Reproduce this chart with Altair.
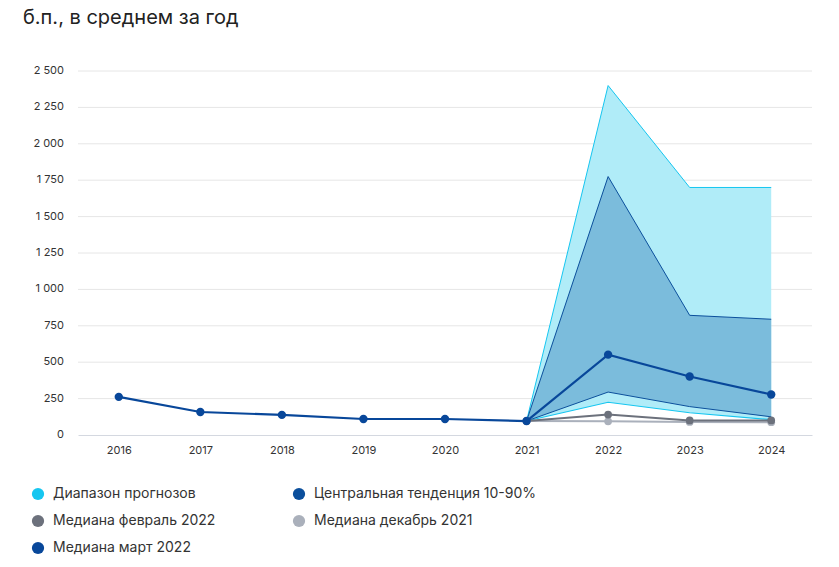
import altair as alt
import pandas as pd

years = ["2016", "2017", "2018", "2019", "2020", "2021", "2022", "2023", "2024"]
hist_years = ["2016", "2017", "2018", "2019", "2020", "2021"]
hist_vals = [262, 158, 138, 110, 110, 96]

fc_years = ["2021", "2022", "2023", "2024"]
range_lo = [96, 225, 153, 105]
range_hi = [96, 2400, 1700, 1700]
central_lo = [96, 295, 195, 125]
central_hi = [96, 1775, 822, 795]
median_mar = [96, 552, 402, 278]
median_feb = [96, 140, 100, 100]
median_dec = [96, 94, 90, 88]

y_ticks = [0, 250, 500, 750, 1000, 1250, 1500, 1750, 2000, 2250, 2500]
y_labels = ["0", "250", "500", "750", "1 000", "1 250", "1 500", "1 750", "2 000", "2 250", "2 500"]

legend_names = ["Диапазон прогнозов", "Центральная тенденция 10-90%",
                "Медиана февраль 2022", "Медиана декабрь 2021", "Медиана март 2022"]
legend_colors = ["#16c6f0", "#0b4f9c", "#6c717c", "#aab0bb", "#08479a"]

FONT = "Inter"
W, H = 734, 364

fc = pd.DataFrame({"year": fc_years, "rlo": range_lo, "rhi": range_hi,
                   "clo": central_lo, "chi": central_hi,
                   "mar": median_mar, "feb": median_feb, "dec": median_dec})
hist = pd.DataFrame({"year": hist_years, "v": hist_vals})
mar_all = pd.concat([hist, pd.DataFrame({"year": fc_years[1:], "v": median_mar[1:]})])
leg = pd.DataFrame({"name": legend_names, "year": ["2016"] * 5, "v": [-5000] * 5})
ticks_df = pd.DataFrame({"t": y_ticks, "lab": y_labels})

xaxis = alt.Axis(title=None, labelAngle=0, ticks=False, grid=False,
                 domainColor="#d4d8e0", labelPadding=9, labelFontSize=11,
                 labelColor="#333333", labelFont=FONT)
xscale = alt.Scale(type="point", padding=0.5, domain=years)
yscale = alt.Scale(domain=[0, 2500], nice=False)


def X():
    return alt.X("year:O", scale=xscale, axis=xaxis)


def Y(f):
    return alt.Y(f, scale=yscale, axis=None)


grid = alt.Chart(ticks_df).transform_filter("datum.t > 0").mark_rule(
    color="#e6e6e6", strokeWidth=1).encode(y=Y("t:Q"), x=alt.value(0), x2=alt.value(W))
ylabels = alt.Chart(ticks_df).mark_text(
    align="right", baseline="middle", fontSize=11, color="#333333", font=FONT
).encode(y=Y("t:Q"), x=alt.value(-14), text="lab:N")

base = alt.Chart(fc)

range_area = base.mark_area(color="#b0ecf8", opacity=1).encode(
    x=X(), y=Y("rlo:Q"), y2="rhi:Q")
range_hi_line = base.mark_line(color="#16c6f0", strokeWidth=1).encode(x=X(), y=Y("rhi:Q"))
range_lo_line = base.mark_line(color="#16c6f0", strokeWidth=1.2).encode(x=X(), y=Y("rlo:Q"))
central_area = base.mark_area(color="#7bbcdc", opacity=1).encode(x=X(), y=Y("clo:Q"), y2="chi:Q")
central_hi_line = base.mark_line(color="#0b4f9c", strokeWidth=1).encode(x=X(), y=Y("chi:Q"))
central_lo_line = base.mark_line(color="#0b4f9c", strokeWidth=1).encode(x=X(), y=Y("clo:Q"))

dec_line = base.mark_line(color="#aab0bb", strokeWidth=2,
                          point=alt.OverlayMarkDef(color="#aab0bb", size=60, filled=True, opacity=1)
                          ).encode(x=X(), y=Y("dec:Q"))
feb_line = base.mark_line(color="#6c717c", strokeWidth=2,
                          point=alt.OverlayMarkDef(color="#6c717c", size=60, filled=True, opacity=1)
                          ).encode(x=X(), y=Y("feb:Q"))
mar_line = alt.Chart(mar_all).mark_line(color="#08479a", strokeWidth=2.2,
                          point=alt.OverlayMarkDef(color="#08479a", size=70, filled=True, opacity=1)
                          ).encode(x=X(), y=Y("v:Q"))

legend_layer = alt.Chart(leg).mark_circle(size=140, opacity=1, clip=True).encode(
    x=X(), y=Y("v:Q"),
    color=alt.Color("name:N", scale=alt.Scale(domain=legend_names, range=legend_colors),
                    sort=legend_names,
                    legend=alt.Legend(title=None, orient="none", legendX=-47, legendY=416,
                                      direction="horizontal", columns=2, columnPadding=76,
                                      rowPadding=13, symbolType="circle", symbolSize=150,
                                      labelFontSize=14, labelColor="#333333", labelFont=FONT,
                                      labelLimit=400, labelOffset=8)))

chart = alt.layer(grid, ylabels, range_area, range_hi_line, range_lo_line, central_area,
                  central_hi_line, central_lo_line, dec_line, feb_line, mar_line,
                  legend_layer).properties(
    width=W, height=H,
    background="white",
    autosize=alt.AutoSizeParams(type="none"),
    padding={"left": 70, "top": 63, "right": 15, "bottom": 120},
    title=alt.TitleParams("б.п., в среднем за год", anchor="start", frame="bounds",
                          fontSize=20, fontWeight="normal", color="#222222", font=FONT,
                          dx=-8, offset=37),
).configure_view(strokeOpacity=0, strokeWidth=0)

chart.save("out.html", embed_options={"renderer": "svg", "actions": False})
